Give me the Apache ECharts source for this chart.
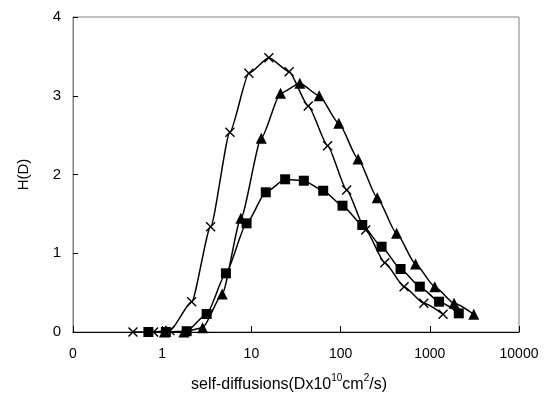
<!DOCTYPE html>
<html><head><meta charset="utf-8">
<script src="https://cdn.jsdelivr.net/npm/echarts@6/dist/echarts.min.js"></script>
<style>html,body{margin:0;padding:0;background:#fff}#c{width:546px;height:401px}</style>
</head><body><div id="c"></div>
<script>
// Series A (crosses)
const crossX = [0.47, 0.80, 1.22, 2.14, 3.49, 5.74, 9.37, 15.7, 26.5, 43.4, 71.5, 117, 191, 313, 515, 857, 1409];
const crossY = [0, 0, 0.02, 0.385, 1.337, 2.536, 3.285, 3.483, 3.306, 2.870, 2.366, 1.803, 1.295, 0.880, 0.576, 0.364, 0.224];
// Series B (triangles)
const triX = [1.06, 1.75, 2.84, 4.71, 7.62, 12.9, 21.2, 34.9, 57.5, 95.5, 157, 257, 424, 692, 1137, 1871, 3110];
const triY = [0, 0, 0.055, 0.483, 1.443, 2.459, 3.031, 3.158, 3.0, 2.65, 2.197, 1.706, 1.253, 0.863, 0.576, 0.364, 0.224];
// Series C (squares)
const sqX = [0.70, 1.10, 1.88, 3.15, 5.18, 8.83, 14.5, 23.9, 38.7, 63.8, 105, 175, 288, 470, 773, 1271, 2113];
const sqY = [0, 0, 0.01, 0.229, 0.745, 1.38, 1.774, 1.939, 1.921, 1.794, 1.604, 1.359, 1.083, 0.80, 0.576, 0.385, 0.237];
// Axis
const xTickLabels = {0.1: '0', 1: '1', 10: '10', 100: '100', 1000: '1000', 10000: '10000'};
const yTicks = [0, 1, 2, 3, 4];

const zip = (a, b) => a.map((v, i) => [v, b[i]]);
const crossPath = 'path://M0,1 L1,0 L5,4 L9,0 L10,1 L6,5 L10,9 L9,10 L5,6 L1,10 L0,9 L4,5 Z';
const font = 'Arial, "Liberation Sans", sans-serif';

const chart = echarts.init(document.getElementById('c'));
chart.setOption({
  animation: false,
  backgroundColor: '#fff',
  grid: {left: 73, top: 17, right: 27, bottom: 69, show: true, borderColor: '#808080', borderWidth: 1},
  xAxis: {
    type: 'log', logBase: 10, min: 0.1, max: 10000,
    name: '{a|self-diffusions(Dx10}{s|10}{a|cm}{s|2}{a|/s)}',
    nameLocation: 'middle', nameGap: 41,
    nameTextStyle: {
      padding: [0, 14, 0, 0],
      rich: {
        a: {fontFamily: font, fontSize: 16, color: '#000', verticalAlign: 'bottom', lineHeight: 20},
        s: {fontFamily: font, fontSize: 10, color: '#000', verticalAlign: 'top', lineHeight: 20, padding: [0, 0, 7, 0]}
      }
    },
    axisLine: {show: true, lineStyle: {color: '#000', width: 1}},
    axisTick: {show: true, inside: true, length: 6, lineStyle: {color: '#000'}},
    minorTick: {show: false},
    splitLine: {show: false},
    axisLabel: {
      color: '#000', fontFamily: font, fontSize: 14, margin: 15,
      formatter: v => { const k = Math.round(Math.log10(v)); return xTickLabels[Math.pow(10, k)] ?? ''; }
    }
  },
  yAxis: {
    type: 'value', min: 0, max: 4, interval: 1,
    name: 'H(D)', nameLocation: 'middle', nameGap: 42,
    nameTextStyle: {fontFamily: font, fontSize: 15, color: '#000'},
    axisLine: {show: true, lineStyle: {color: '#808080', width: 1}},
    axisTick: {show: true, inside: true, length: 5, lineStyle: {color: '#000'}},
    splitLine: {show: false},
    axisLabel: {color: '#000', fontFamily: font, fontSize: 15, margin: 12,
      formatter: v => yTicks.includes(v) ? String(v) : ''}
  },
  series: [
    {type: 'line', data: zip(crossX, crossY), smooth: 0.2, smoothMonotone: 'x', symbol: crossPath, symbolSize: 10,
     lineStyle: {color: '#000', width: 1.5}, itemStyle: {color: '#000'}, z: 2},
    {type: 'line', data: zip(triX, triY), smooth: 0.2, smoothMonotone: 'x', symbol: 'triangle', symbolSize: 11,
     lineStyle: {color: '#000', width: 1.5}, itemStyle: {color: '#000'}, z: 3},
    {type: 'line', data: zip(sqX, sqY), smooth: 0.2, smoothMonotone: 'x', symbol: 'rect', symbolSize: 10,
     lineStyle: {color: '#000', width: 1.5}, itemStyle: {color: '#000'}, z: 4}
  ]
});
</script></body></html>
